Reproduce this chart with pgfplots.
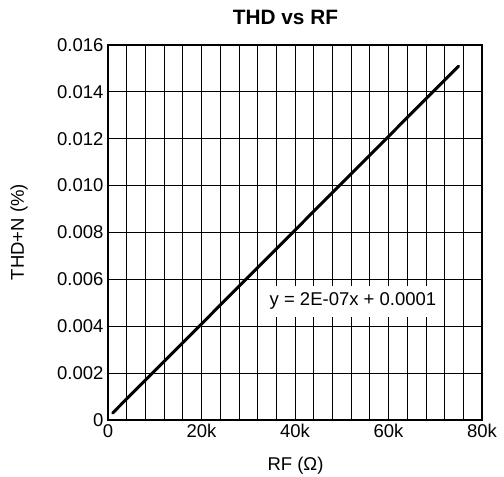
\documentclass[border=0pt]{standalone}
\usepackage{fontspec}
\setmainfont{Liberation Sans}
\usepackage{pgfplots}
\pgfplotsset{compat=1.18}
\begin{document}
\begin{tikzpicture}[x=1bp,y=1bp]
\useasboundingbox (-108,-57) rectangle (396,420);
\begin{axis}[
  at={(0,0)}, anchor=south west,
  scale only axis, width=374bp, height=375bp,
  xmin=0, xmax=80000, ymin=0, ymax=0.016,
  xtick={0,20000,40000,60000,80000},
  xticklabels={0,20k,40k,60k,80k},
  minor xtick={4000,8000,12000,16000,24000,28000,32000,36000,44000,48000,52000,56000,64000,68000,72000,76000},
  ytick={0,0.002,0.004,0.006,0.008,0.010,0.012,0.014,0.016},
  yticklabels={0,0.002,0.004,0.006,0.008,0.010,0.012,0.014,0.016},
  scaled x ticks=false, scaled y ticks=false,
  /pgf/number format/assume math mode=true,
  grid=both,
  major grid style={black, line width=0.8bp},
  minor grid style={black, line width=0.8bp},
  major tick length=0pt, minor tick length=0pt,
  axis line style={black, line width=1.1bp},
  ticklabel style={font=\fontsize{18.5bp}{21bp}\selectfont},
  yticklabel style={xshift=-1bp},
  xticklabel style={yshift=-1bp},
]
\addplot[black, line width=3bp, line cap=round] coordinates {
  (1000,0.0003) (10000,0.0021) (20000,0.0041) (40000,0.0081) (60000,0.0121) (75000,0.0151)
};
\node[fill=white, inner xsep=6bp, inner ysep=0pt, minimum height=31bp,
      font=\fontsize{18.5bp}{21bp}\selectfont] at (axis cs:52400,0.00506) {y = 2E-07x + 0.0001};
\end{axis}
\node[font=\fontsize{20.8bp}{24bp}\selectfont\bfseries] at (177.5,402.5) {THD vs RF};
\node[font=\fontsize{18.5bp}{21bp}\selectfont, rotate=90] at (-89,188) {THD+N (\%)};
\node[font=\fontsize{18.5bp}{21bp}\selectfont] at (187.5,-46) {RF (Ω)};
\end{tikzpicture}
\end{document}
